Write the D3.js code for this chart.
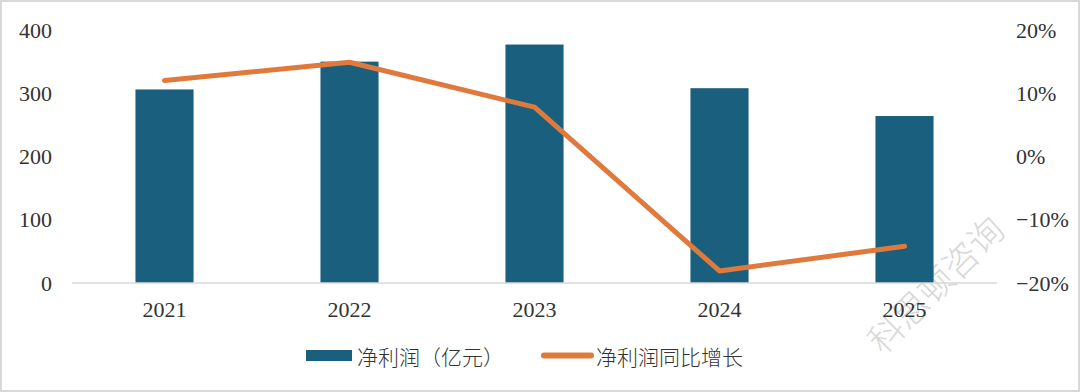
<!DOCTYPE html>
<html>
<head>
<meta charset="utf-8">
<script src="https://cdn.jsdelivr.net/npm/d3@7"></script>
<style>
  body { margin: 0; background: #fff; }
  svg { display: block; }
</style>
</head>
<body>
<div id="chart"></div>
<script>
// data
const years = ['2021', '2022', '2023', '2024', '2025'];
const profit = [306, 350, 377, 308, 264];          // 净利润（亿元）
const growth = [12.0, 14.9, 7.8, -18.1, -14.2];     // 净利润同比增长 (%)
const leftTicks = [0, 100, 200, 300, 400];
const rightTicks = [-20, -10, 0, 10, 20];

const width = 1080, height = 392;
const barColor = '#1a5f7e', lineColor = '#e07a3c';

let svg = d3.select('#chart')
  .append('svg')
  .attr('width', width)
  .attr('height', height);

// outer frame
svg.append('rect')
  .attr('x', 1).attr('y', 1)
  .attr('width', width - 2).attr('height', height - 2)
  .attr('fill', 'none')
  .attr('stroke', '#d9d9d9')
  .attr('stroke-width', 2);

let x = d3.scaleBand()
  .domain(years)
  .range([72, 997])
  .paddingInner(0.686)
  .paddingOuter(0.343);

let yL = d3.scaleLinear().domain([0, 400]).range([283, 30]);
let yR = d3.scaleLinear().domain([-20, 20]).range([283, 30]);

// watermark
svg.append('text')
  .attr('transform', 'translate(934, 283) rotate(-45)')
  .attr('text-anchor', 'middle')
  .attr('dominant-baseline', 'central')
  .style('font-family', '"Noto Sans CJK SC"')
  .style('font-weight', 300)
  .style('font-size', '35px')
  .style('fill', '#c8c8c8')
  .style('opacity', 0.7)
  .text('科思顿咨询');

// bars
svg.append('g')
  .selectAll('rect')
  .data(profit)
  .enter()
  .append('rect')
    .attr('x', (d, i) => x(years[i]))
    .attr('y', d => yL(d))
    .attr('width', x.bandwidth())
    .attr('height', d => yL(0) - yL(d))
    .attr('fill', barColor);

// baseline
svg.append('line')
  .attr('x1', 72).attr('x2', 997)
  .attr('y1', yL(0)).attr('y2', yL(0))
  .attr('stroke', '#d9d9d9')
  .attr('stroke-width', 1.5);

// growth line
let line = d3.line()
  .x((d, i) => x(years[i]) + x.bandwidth() / 2)
  .y(d => yR(d));

svg.append('path')
  .datum(growth)
  .attr('d', line)
  .attr('fill', 'none')
  .attr('stroke', lineColor)
  .attr('stroke-width', 5)
  .attr('stroke-linecap', 'round')
  .attr('stroke-linejoin', 'round');

// axes
let tickFont = g => g.selectAll('text')
  .style('font-family', '"Liberation Serif", serif')
  .style('font-size', '22px')
  .style('fill', '#333');

let axisL = svg.append('g')
  .attr('transform', 'translate(52, 0)')
  .call(d3.axisLeft(yL).tickValues(leftTicks).tickSize(0).tickPadding(0));
axisL.select('.domain').remove();
axisL.call(tickFont);

let axisR = svg.append('g')
  .attr('transform', 'translate(1016, 0)')
  .call(d3.axisRight(yR).tickValues(rightTicks).tickSize(0).tickPadding(0)
    .tickFormat(d => (d < 0 ? '\u2212' + Math.abs(d) : d) + '%'));
axisR.select('.domain').remove();
axisR.call(tickFont);

let axisB = svg.append('g')
  .attr('transform', `translate(0, ${yL(0)})`)
  .call(d3.axisBottom(x).tickSize(0).tickPadding(18));
axisB.select('.domain').remove();
axisB.call(tickFont);

// legend
let legend = svg.append('g');
legend.append('rect')
  .attr('x', 306).attr('y', 350)
  .attr('width', 46).attr('height', 11)
  .attr('fill', barColor);
legend.append('text')
  .attr('x', 357).attr('y', 356)
  .attr('dominant-baseline', 'central')
  .style('font-family', '"Noto Sans CJK SC"')
  .style('font-weight', 300)
  .style('font-size', '21px')
  .style('fill', '#333')
  .text('净利润（亿元）');
legend.append('line')
  .attr('x1', 544).attr('x2', 591)
  .attr('y1', 355.5).attr('y2', 355.5)
  .attr('stroke', lineColor)
  .attr('stroke-width', 6)
  .attr('stroke-linecap', 'round');
legend.append('text')
  .attr('x', 596).attr('y', 356)
  .attr('dominant-baseline', 'central')
  .style('font-family', '"Noto Sans CJK SC"')
  .style('font-weight', 300)
  .style('font-size', '21px')
  .style('fill', '#333')
  .text('净利润同比增长');
</script>
</body>
</html>
